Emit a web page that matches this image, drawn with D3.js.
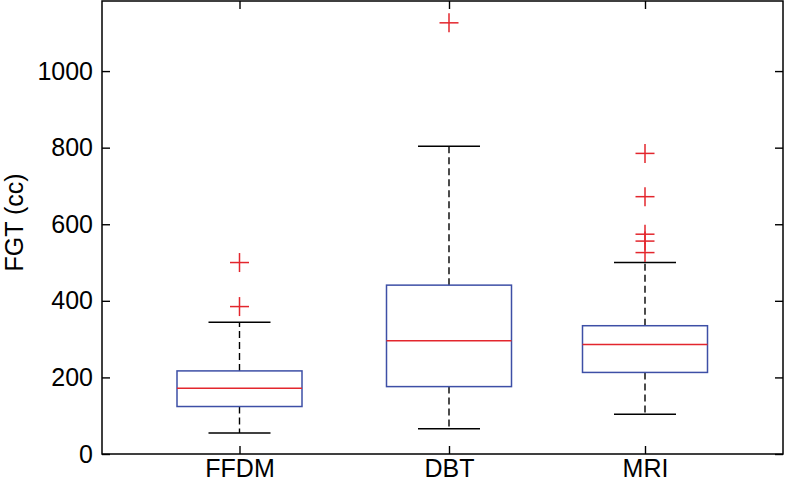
<!DOCTYPE html>
<html>
<head>
<meta charset="utf-8">
<script src="https://cdn.jsdelivr.net/npm/d3@7"></script>
<style>
  body { margin: 0; background: #fff; }
  svg { display: block; font-family: "Liberation Sans", Arial, Helvetica, sans-serif; }
  .axis text { font-size: 25px; fill: #000; }
  .axis line { stroke: #000; stroke-width: 1.4; }
  .axis path { display: none; }
</style>
</head>
<body>
<svg id="chart" width="785" height="484"></svg>
<script>
// DATA
const categories = ["FFDM", "DBT", "MRI"];
const lowerWhisker = [55, 66, 104];
const q1 = [124, 176, 213];
const median = [172, 296, 286];
const q3 = [217, 441, 335];
const upperWhisker = [344, 804, 500];
const outliers = [[500, 385], [1126], [785, 672, 574, 556, 526]];
const yTicks = [0, 200, 400, 600, 800, 1000];

const svg = d3.select("#chart");
const width = +svg.attr("width");
const height = +svg.attr("height");

const margin = { top: 1, right: 2, bottom: 30, left: 102 };
const innerWidth = width - margin.left - margin.right;
const innerHeight = height - margin.top - margin.bottom;

const g = svg.append("g")
  .attr("transform", `translate(${margin.left},${margin.top})`);

// scales
const yScale = d3.scaleLinear().domain([0, 1183]).range([innerHeight, 0]);
// box positions 1..3 (the picture's spacing is slightly uneven)
const xScale = d3.scaleLinear().domain([1, 2, 3]).range([137.5, 347, 543]);

const boxHalf = 62.5;
const capHalf = 31;
const plusHalf = 9.5;

const rows = categories.map((c, i) => ({
  cat: c, pos: i + 1,
  lo: lowerWhisker[i], q1: q1[i], med: median[i], q3: q3[i], hi: upperWhisker[i],
  out: outliers[i]
}));

// axes, ticks pointing inwards on all four sides
g.append("g").attr("class", "axis")
  .call(d3.axisLeft(yScale).tickValues(yTicks).tickFormat(d3.format("d"))
    .tickSizeInner(-8).tickSizeOuter(0).tickPadding(9));

g.append("g").attr("class", "axis")
  .attr("transform", `translate(${innerWidth},0)`)
  .call(d3.axisRight(yScale).tickValues(yTicks).tickSizeInner(-8).tickSizeOuter(0))
  .call(a => a.selectAll("text").remove());

g.append("g").attr("class", "axis")
  .attr("transform", `translate(0,${innerHeight})`)
  .call(d3.axisBottom(xScale).tickValues([1, 2, 3])
    .tickFormat(d => categories[d - 1])
    .tickSizeInner(-8).tickSizeOuter(0).tickPadding(5));

g.append("g").attr("class", "axis")
  .call(d3.axisTop(xScale).tickValues([1, 2, 3]).tickSizeInner(-8).tickSizeOuter(0))
  .call(a => a.selectAll("text").remove());

// frame
g.append("rect")
  .attr("x", 0).attr("y", 0)
  .attr("width", innerWidth).attr("height", innerHeight)
  .attr("fill", "none")
  .attr("stroke", "#000")
  .attr("stroke-width", 1.5);

// y label
svg.append("text")
  .attr("transform", `translate(23,${margin.top + innerHeight / 2 - 5}) rotate(-90)`)
  .attr("text-anchor", "middle")
  .style("font-size", "25px")
  .text("FGT (cc)");

// boxes
const box = g.selectAll(".box")
  .data(rows)
  .join("g")
  .attr("class", "box");

// dashed whiskers
box.append("line")
  .attr("x1", d => xScale(d.pos)).attr("x2", d => xScale(d.pos))
  .attr("y1", d => yScale(d.q3)).attr("y2", d => yScale(d.hi))
  .attr("stroke", "#000").attr("stroke-width", 1.4)
  .attr("stroke-dasharray", "7,4");

box.append("line")
  .attr("x1", d => xScale(d.pos)).attr("x2", d => xScale(d.pos))
  .attr("y1", d => yScale(d.q1)).attr("y2", d => yScale(d.lo))
  .attr("stroke", "#000").attr("stroke-width", 1.4)
  .attr("stroke-dasharray", "7,4");

// whisker caps
box.selectAll(".cap")
  .data(d => [d.lo, d.hi].map(v => ({ pos: d.pos, v })))
  .join("line")
  .attr("class", "cap")
  .attr("x1", d => xScale(d.pos) - capHalf).attr("x2", d => xScale(d.pos) + capHalf)
  .attr("y1", d => yScale(d.v)).attr("y2", d => yScale(d.v))
  .attr("stroke", "#000").attr("stroke-width", 1.5);

// IQR box
box.append("rect")
  .attr("x", d => xScale(d.pos) - boxHalf)
  .attr("y", d => yScale(d.q3))
  .attr("width", boxHalf * 2)
  .attr("height", d => yScale(d.q1) - yScale(d.q3))
  .attr("fill", "none")
  .attr("stroke", "#3d4fa6")
  .attr("stroke-width", 1.5);

// median
box.append("line")
  .attr("x1", d => xScale(d.pos) - boxHalf).attr("x2", d => xScale(d.pos) + boxHalf)
  .attr("y1", d => yScale(d.med)).attr("y2", d => yScale(d.med))
  .attr("stroke", "#e3262d").attr("stroke-width", 1.5);

// outliers as red plus signs
const plus = box.selectAll(".out")
  .data(d => d.out.map(v => ({ pos: d.pos, v })))
  .join("g")
  .attr("class", "out")
  .attr("transform", d => `translate(${xScale(d.pos)},${yScale(d.v)})`);

plus.append("line")
  .attr("x1", -plusHalf).attr("x2", plusHalf).attr("y1", 0).attr("y2", 0)
  .attr("stroke", "#e3262d").attr("stroke-width", 1.5);
plus.append("line")
  .attr("x1", 0).attr("x2", 0).attr("y1", -plusHalf).attr("y2", plusHalf)
  .attr("stroke", "#e3262d").attr("stroke-width", 1.5);
</script>
</body>
</html>
